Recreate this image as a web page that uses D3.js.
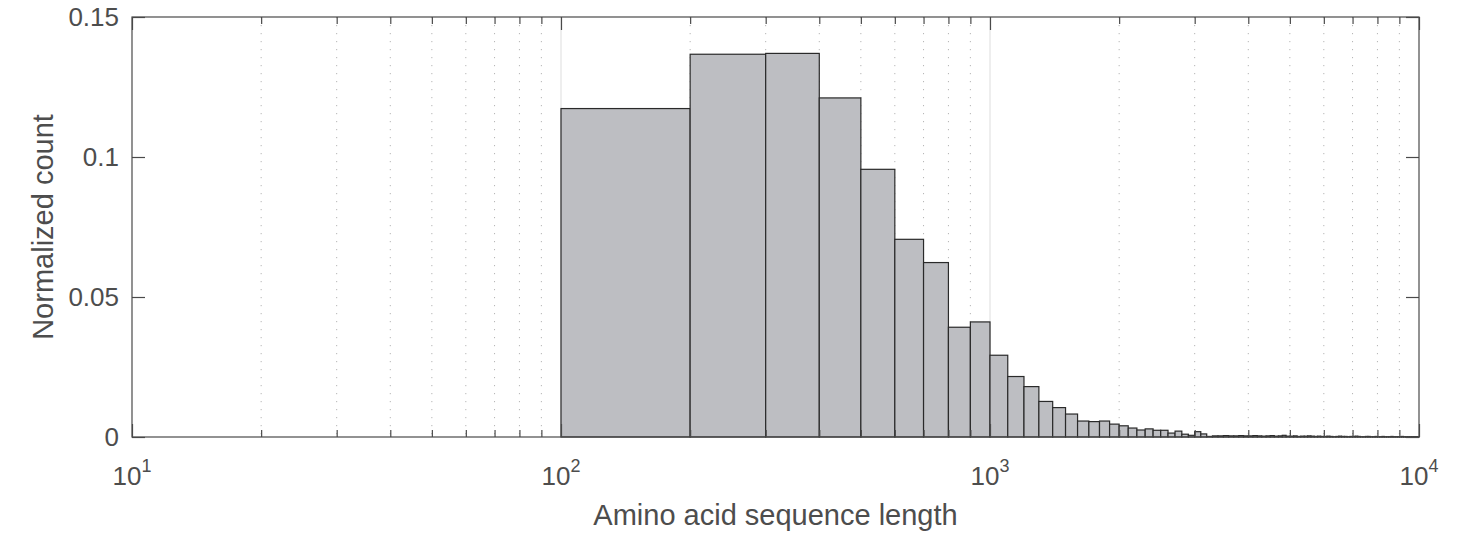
<!DOCTYPE html>
<html>
<head>
<meta charset="utf-8">
<script src="https://cdn.jsdelivr.net/npm/d3@7"></script>
<style>
  body { margin: 0; background: #fff; }
  text { font-family: "Liberation Sans", Arial, Helvetica, sans-serif; fill: #4d4d4d; }
</style>
</head>
<body>
<svg id="chart"></svg>
<script>
// Histogram bins: 100 wide, from 100 up to 10^4
const binStart = 100;
const binWidth = 100;

// Normalized count per bin
const normCounts = [
    0.1173, 0.1367, 0.1370, 0.1211, 0.0956, 0.0706, 0.0623, 0.0392, 0.0411, 0.0292,
    0.0216, 0.0180, 0.0127, 0.0105, 0.0082, 0.0057, 0.0055, 0.0057, 0.0046, 0.0040,
    0.0032, 0.0025, 0.0029, 0.0024, 0.0024, 0.0014, 0.0021, 0.0010, 0.0006, 0.0019,
    0.0011, 0.0002, 0.0004, 0.0004, 0.0005, 0.0004, 0.0004, 0.0005, 0.0004, 0.0004,
    0.0005, 0.0004, 0.0003, 0.0004, 0.0005, 0.0003, 0.0004, 0.0006, 0.0003, 0.0003,
    0.0004, 0.0002, 0.0003, 0.0003, 0.0004, 0.0003, 0.0002, 0.0003, 0.0002, 0.0002,
    0.0003, 0.0002, 0.0001, 0.0002, 0.0003, 0.0002, 0.0002, 0.0001, 0.0002, 0.0002,
    0.0003, 0.0002, 0.0001, 0.0001, 0.0002, 0.0002, 0.0001, 0.0001, 0.0002, 0.0001,
    0.0001, 0.0002, 0.0001, 0.0001, 0.0001, 0.0002, 0.0001, 0.0001, 0.0001, 0.0001,
    0.0002, 0.0001, 0.0001, 0.0001, 0.0001, 0.0001, 0.0001, 0.0001, 0.0001
];

// Axis ticks
const xMajorTicks = [10, 100, 1000, 10000];
const xTickExponents = ["1", "2", "3", "4"];
const xMinorTicks = [20, 30, 40, 50, 60, 70, 80, 90,
                     200, 300, 400, 500, 600, 700, 800, 900,
                     2000, 3000, 4000, 5000, 6000, 7000, 8000, 9000];
const yTicks = [0, 0.05, 0.1, 0.15];
const yTickLabels = ["0", "0.05", "0.1", "0.15"];

const xLabel = "Amino acid sequence length";
const yLabel = "Normalized count";

// Layout
const width = 1460;
const height = 539;
const plot = { left: 132, right: 1419, top: 17, bottom: 437 };
const axisColor = "#4a4a4a";
const barFill = "#bdbec2";
const barStroke = "#2a2a2a";

const svg = d3.select("#chart")
    .attr("width", width)
    .attr("height", height);

const x = d3.scaleLog()
    .domain([10, 10000])
    .range([plot.left, plot.right]);

const y = d3.scaleLinear()
    .domain([0, 0.15])
    .range([plot.bottom, plot.top]);

// Grid (x only): major decades solid, minor dotted
svg.append("g")
    .selectAll("line")
    .data(xMinorTicks)
    .enter().append("line")
    .attr("x1", d => x(d)).attr("x2", d => x(d))
    .attr("y1", plot.top).attr("y2", plot.bottom)
    .attr("stroke", "#b5b5b5")
    .attr("stroke-width", 1)
    .attr("stroke-dasharray", "1.2,6.8");

svg.append("g")
    .selectAll("line")
    .data(xMajorTicks.slice(1, -1))
    .enter().append("line")
    .attr("x1", d => x(d)).attr("x2", d => x(d))
    .attr("y1", plot.top).attr("y2", plot.bottom)
    .attr("stroke", "#e3e3e3")
    .attr("stroke-width", 1.2);

// Histogram bars
const bins = normCounts.map((v, i) => ({
    x0: binStart + i * binWidth,
    x1: binStart + (i + 1) * binWidth,
    value: v
}));

svg.append("g")
    .selectAll("rect")
    .data(bins)
    .enter().append("rect")
    .attr("x", d => x(d.x0))
    .attr("width", d => x(d.x1) - x(d.x0))
    .attr("y", d => y(d.value))
    .attr("height", d => y(0) - y(d.value))
    .attr("fill", barFill)
    .attr("stroke", barStroke)
    .attr("stroke-width", 1.2);

// Ticks, pointing inward on all four sides
function styleAxis(g) {
    g.select(".domain").remove();
    g.selectAll(".tick line")
        .attr("stroke", axisColor)
        .attr("stroke-width", 1.2);
}

svg.append("g")
    .attr("transform", `translate(0,${plot.bottom})`)
    .call(d3.axisBottom(x).tickValues(xMajorTicks).tickSize(-13).tickFormat(""))
    .call(styleAxis);
svg.append("g")
    .attr("transform", `translate(0,${plot.bottom})`)
    .call(d3.axisBottom(x).tickValues(xMinorTicks).tickSize(-7).tickFormat(""))
    .call(styleAxis);
svg.append("g")
    .attr("transform", `translate(0,${plot.top})`)
    .call(d3.axisTop(x).tickValues(xMajorTicks).tickSize(-13).tickFormat(""))
    .call(styleAxis);
svg.append("g")
    .attr("transform", `translate(0,${plot.top})`)
    .call(d3.axisTop(x).tickValues(xMinorTicks).tickSize(-7).tickFormat(""))
    .call(styleAxis);
svg.append("g")
    .attr("transform", `translate(${plot.left},0)`)
    .call(d3.axisLeft(y).tickValues(yTicks).tickSize(-13).tickFormat(""))
    .call(styleAxis);
svg.append("g")
    .attr("transform", `translate(${plot.right},0)`)
    .call(d3.axisRight(y).tickValues(yTicks).tickSize(-13).tickFormat(""))
    .call(styleAxis);

// Axes box
svg.append("rect")
    .attr("x", plot.left)
    .attr("y", plot.top)
    .attr("width", plot.right - plot.left)
    .attr("height", plot.bottom - plot.top)
    .attr("fill", "none")
    .attr("stroke", axisColor)
    .attr("stroke-width", 1.2);

// Y tick labels
svg.append("g")
    .selectAll("text")
    .data(yTicks)
    .enter().append("text")
    .attr("x", plot.left - 13)
    .attr("y", d => y(d))
    .attr("dy", "0.36em")
    .attr("text-anchor", "end")
    .style("font-size", "26px")
    .text((d, i) => yTickLabels[i]);

// X tick labels as 10^n
const xLabels = svg.append("g")
    .selectAll("text")
    .data(xMajorTicks)
    .enter().append("text")
    .attr("x", d => x(d))
    .attr("y", 485)
    .attr("text-anchor", "middle")
    .style("font-size", "26px");

xLabels.append("tspan").text("10");
xLabels.append("tspan")
    .attr("dy", -13)
    .style("font-size", "18px")
    .text((d, i) => xTickExponents[i]);

// Axis labels
svg.append("text")
    .attr("x", (plot.left + plot.right) / 2)
    .attr("y", 525)
    .attr("text-anchor", "middle")
    .style("font-size", "29px")
    .text(xLabel);

svg.append("text")
    .attr("transform", `translate(53,${(plot.top + plot.bottom) / 2}) rotate(-90)`)
    .attr("text-anchor", "middle")
    .style("font-size", "29px")
    .text(yLabel);
</script>
</body>
</html>
